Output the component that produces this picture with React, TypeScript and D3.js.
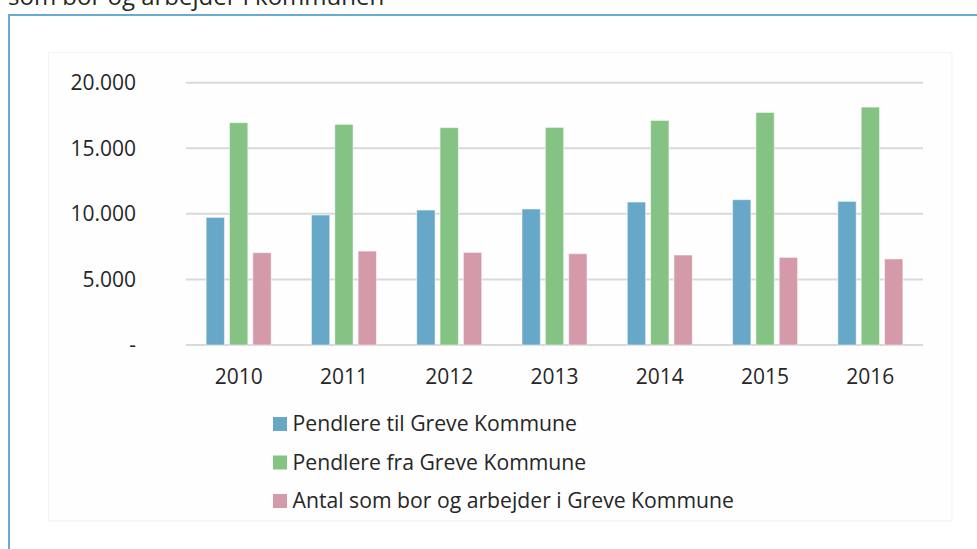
import React from "react";
import * as d3 from "d3";

const years = ["2010", "2011", "2012", "2013", "2014", "2015", "2016"];
const seriesNames = [
  "Pendlere til Greve Kommune",
  "Pendlere fra Greve Kommune",
  "Antal som bor og arbejder i Greve Kommune",
];
const pendlereTil = [9730, 9910, 10290, 10370, 10900, 11080, 10950];
const pendlereFra = [16950, 16820, 16570, 16590, 17120, 17730, 18140];
const antalBorArbejder = [7040, 7160, 7060, 6960, 6860, 6680, 6560];
const seriesColors = ["#67a8c9", "#85c384", "#d49aa9"];
const yTicks = [0, 5000, 10000, 15000, 20000];
const yTickLabels = ["-", "5.000", "10.000", "15.000", "20.000"];
const titleText = "som bor og arbejder i kommunen";

const seriesValues = [pendlereTil, pendlereFra, antalBorArbejder];

export default function App() {
  const W = 977;
  const H = 549;
  const plotLeft = 186;
  const plotRight = 923;
  const plotTop = 82.7;
  const plotBottom = 345;
  const font = "'Open Sans', 'Noto Sans', sans-serif";
  const textColor = "#262626";

  const x0 = d3.scaleBand().domain(years).range([plotLeft, plotRight]).padding(0);
  const x1 = d3
    .scaleBand()
    .domain(seriesNames)
    .range([-32.5, 32.5])
    .paddingInner(0.215)
    .paddingOuter(0);
  const y = d3.scaleLinear().domain([0, 20000]).range([plotBottom, plotTop]);

  return (
    <svg
      width={W}
      height={H}
      style={{ position: "absolute", left: 0, top: 0, background: "#fff" }}
    >
      <text x={8} y={5} fontFamily={font} fontSize={24} fill={textColor}>
        {titleText}
      </text>
      <rect x={9} y={15} width={W + 10} height={H + 10} fill="#fff" stroke="#6aaad1" strokeWidth={2} />
      <rect x={48.5} y={52.5} width={903.5} height={468.5} fill="#fefefe" stroke="#f3f3f3" strokeWidth={1} />
      {yTicks.map((t, i) => (
        <g key={t}>
          <line x1={plotLeft} x2={plotRight} y1={y(t)} y2={y(t)} stroke="#d9d9d9" strokeWidth={2} />
          <text
            x={136}
            y={y(t)}
            dy="0.35em"
            textAnchor="end"
            fontFamily={font}
            fontSize={21}
            fill={textColor}
          >
            {yTickLabels[i]}
          </text>
        </g>
      ))}
      {years.map((yr, yi) => {
        const cx = (x0(yr) as number) + x0.bandwidth() / 2;
        return (
          <g key={yr}>
            {seriesNames.map((s, si) => {
              const v = seriesValues[si][yi];
              const bx = cx + (x1(s) as number);
              return (
                <rect
                  key={s}
                  x={bx}
                  y={y(v)}
                  width={x1.bandwidth()}
                  height={plotBottom - y(v)}
                  fill={seriesColors[si]}
                  stroke="#ffffff"
                  strokeOpacity={0.5}
                  strokeWidth={1}
                />
              );
            })}
            <text
              x={cx}
              y={377}
              dy="0.35em"
              textAnchor="middle"
              fontFamily={font}
              fontSize={21}
              fill={textColor}
            >
              {yr}
            </text>
          </g>
        );
      })}
      {seriesNames.map((s, si) => {
        const cy = 424 + si * 38.5;
        return (
          <g key={s}>
            <rect x={273} y={cy - 7} width={14} height={14} fill={seriesColors[si]} />
            <text x={292.5} y={cy} dy="0.35em" fontFamily={font} fontSize={21.2} fill={textColor}>
              {s}
            </text>
          </g>
        );
      })}
    </svg>
  );
}
